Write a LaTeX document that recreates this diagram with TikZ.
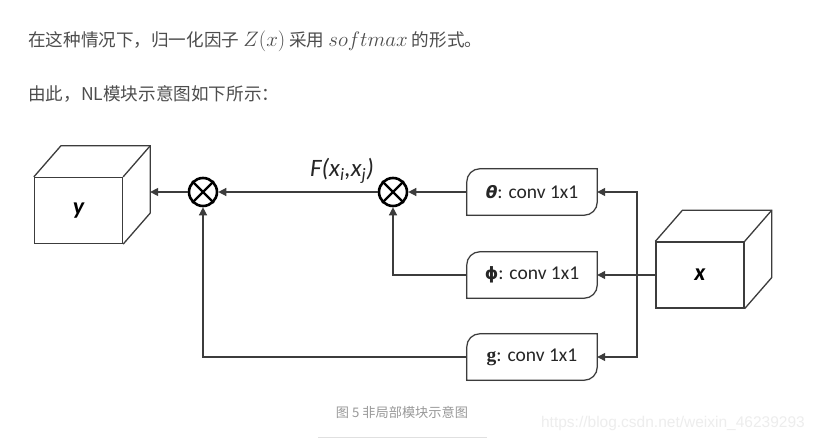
\documentclass[tikz,border=0pt]{standalone}
\usepackage{graphicx}
\usepackage{fontspec}
\setmainfont{Noto Sans CJK SC}
\newfontfamily\diafont{Carlito}
\newfontfamily\symfont{DejaVu Sans}
\newfontfamily\serfont{Liberation Serif}
\newfontfamily\urlfont{Liberation Sans}
\usetikzlibrary{arrows.meta,calc}
\definecolor{txtgray}{HTML}{4D4D4D}
\definecolor{capgray}{HTML}{999999}
\definecolor{linegray}{HTML}{3C3C3C}
\definecolor{wmgray}{HTML}{EDEDED}
\newcommand{\mathbig}[1]{\scalebox{1.21}{$#1$}}
\newcommand{\symsize}{\fontsize{17}{17}\selectfont}
\newcommand{\cubeback}[1]{%
  \draw[cubeline] (#1.north west) -- ($(#1.north west)+(27,-31)$) -- ($(#1.north east)+(27,-31)$)
    -- ($(#1.south east)+(27,-31)$) -- (#1.south east);
  \draw[cubeline] (#1.north east) -- ($(#1.north east)+(27,-31)$);}
\newcommand{\convpath}[1]{(#1.north east) -- ([xshift=13pt]#1.north west)
  .. controls ([xshift=5.8pt]#1.north west) and ([yshift=-5.8pt]#1.north west) .. ([yshift=-13pt]#1.north west)
  -- (#1.south west) -- ([xshift=-13pt]#1.south east)
  .. controls ([xshift=-5.8pt]#1.south east) and ([yshift=5.8pt]#1.south east) .. ([yshift=13pt]#1.south east) -- cycle}
\newcommand{\convframe}[1]{%
  \draw[black!10,line width=2pt,xshift=1.5pt,yshift=-1.5pt] \convpath{#1};
  \draw[boxline,fill=white] \convpath{#1};}
\newcommand{\otimesmark}[1]{%
  \draw[line width=2.4pt] (#1.north west) -- (#1.south east) (#1.north east) -- (#1.south west);}

\begin{document}
\begin{tikzpicture}[x=1pt,y=-1pt,
  arr/.style={-{Triangle[length=8pt,width=8pt]},draw=linegray,line width=1.3pt},
  cubeline/.style={draw=linegray,line width=1.3pt},
  cubeface/.style={cubeline,minimum width=88pt,minimum height=66pt,inner sep=0pt,
    font=\diafont\bfseries\itshape\fontsize{24}{24}\selectfont},
  boxline/.style={draw=linegray,line width=1.2pt},
  convbox/.style={minimum width=130pt,minimum height=46pt,inner sep=0pt,text=black!85,
    font=\diafont\fontsize{19.5}{20}\selectfont},
  mult/.style={circle,draw=black,line width=2.6pt,minimum size=28pt,inner sep=0pt},
  para/.style={anchor=base west,inner sep=0pt,text=txtgray,font=\fontsize{17.6}{20}\selectfont}]
\useasboundingbox[fill=white] (0,0) rectangle (815,441);

\node[para] (line1) at (28,46.5) {在这种情况下，归一化因子 \mathbig{Z(x)} 采用 \mathbig{softmax} 的形式。};
\node[para] (line2) at (28,101) {由此，NL模块示意图如下所示：};

% cubes
\node[cubeface] (ybox) at (78.5,210.5) {y};
\cubeback{ybox}
\node[cubeface] (xbox) at (700,275) {x};
\cubeback{xbox}
\coordinate (yback) at ($(ybox.north east)+(27,-31)$);

% 1x1 conv boxes, frame drawn under the text
\node[convbox] (tconv) at (532,192) {\phantom{x}};
\node[convbox] (pconv) at (532,275) {\phantom{x}};
\node[convbox] (gconv) at (532,357) {\phantom{x}};
\convframe{tconv}
\convframe{pconv}
\convframe{gconv}
\node[convbox] at (tconv) {{\symfont\bfseries\itshape\symsize θ}: conv 1x1};
\node[convbox] at (pconv) {{\symfont\bfseries\symsize ϕ}: conv 1x1};
\node[convbox] at (gconv) {{\serfont\bfseries g}: conv 1x1};

\node[mult] (ot1) at (203,192) {};
\node[mult] (ot2) at (393,192) {};
\otimesmark{ot1}
\otimesmark{ot2}
\node[font=\diafont\itshape\fontsize{25}{25}\selectfont,text=black!85] (fij) at (342,171)
  {F(x\textsubscript{i},x\textsubscript{j})};

\coordinate (bus) at (637,275);
\draw[arr] (xbox.west) -- (pconv.east);
\draw[arr] (bus) |- (tconv.east);
\draw[arr] (bus) |- (gconv.east);
\draw[arr] (tconv.west) -- (ot2.east);
\draw[arr] (pconv.west) -| (ot2.south);
\draw[arr] (gconv.west) -| (ot1.south);
\draw[arr] (ot2.west) -- (ot1.east);
\draw[arr] (ot1.west) -- (ot1 -| yback);

\node[anchor=base,text=capgray,font=\fontsize{13.2}{15}\selectfont] (cap) at (402,417) {图 5 非局部模块示意图};
\draw[black!12] (318,437) -- (487,437);
\node[anchor=base east,inner sep=0pt,text=wmgray,font=\urlfont\fontsize{15.5}{16}\selectfont] (wm) at (805,427)
  {https://blog.csdn.net/weixin\_46239293};
\end{tikzpicture}
\end{document}
